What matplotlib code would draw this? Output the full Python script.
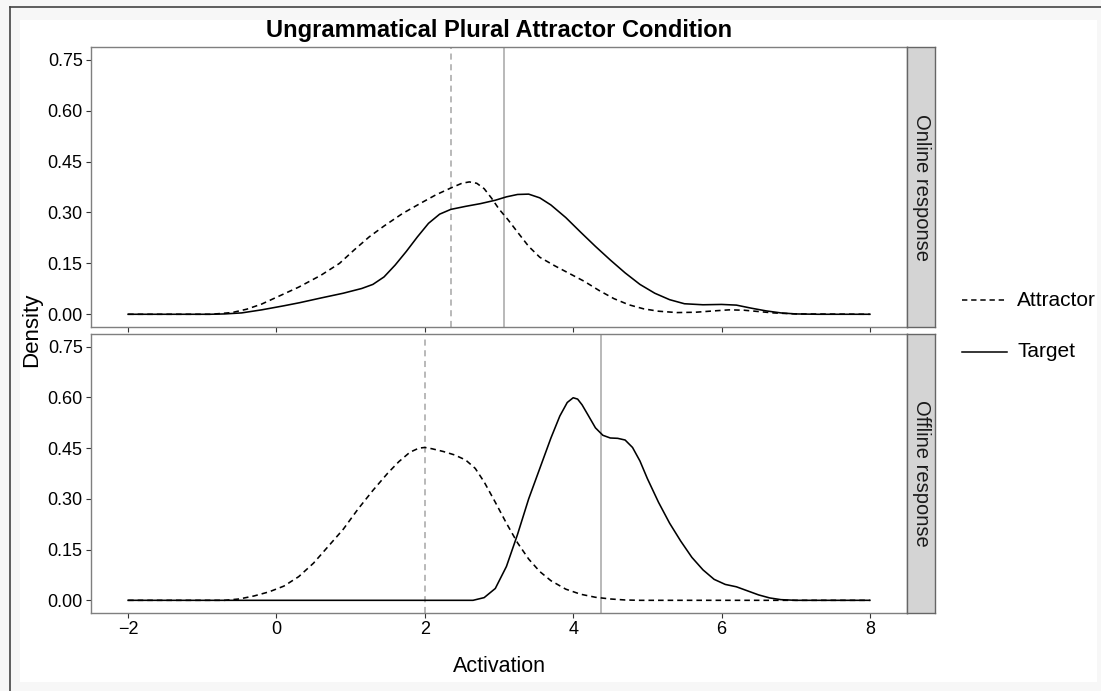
import matplotlib.pyplot as plt
from matplotlib.patches import Rectangle
from matplotlib.lines import Line2D

plt.rcParams['font.family'] = ['Liberation Sans', 'DejaVu Sans']

title = 'Ungrammatical Plural Attractor Condition'
panels = ['Online response', 'Offline response']
yticks = [0.00, 0.15, 0.30, 0.45, 0.60, 0.75]
xticks = [-2, 0, 2, 4, 6, 8]

# online response
on_target_x = [-2, -0.9, -0.7, -0.47, -0.2, 0.1, 0.31, 0.6, 0.9, 1.15, 1.3, 1.45, 1.6, 1.75, 1.9, 2.05,
               2.2, 2.35, 2.55, 2.75, 2.95, 3.1, 3.25, 3.4, 3.55, 3.7, 3.9, 4.1, 4.3, 4.5, 4.7, 4.9, 5.1,
               5.3, 5.5, 5.75, 6.0, 6.2, 6.4, 6.6, 6.8, 7.0, 7.3, 8]
on_target_y = [0, 0, 0.001, 0.004, 0.013, 0.025, 0.034, 0.048, 0.062, 0.076, 0.088, 0.11, 0.145, 0.185,
               0.228, 0.268, 0.295, 0.309, 0.318, 0.326, 0.336, 0.346, 0.353, 0.354, 0.343, 0.322, 0.285,
               0.242, 0.2, 0.16, 0.122, 0.088, 0.062, 0.043, 0.031, 0.028, 0.029, 0.027, 0.018, 0.01,
               0.004, 0.001, 0, 0]
on_attr_x = [-2, -0.88, -0.6, -0.4, -0.2, 0, 0.3, 0.6, 0.85, 1.05, 1.25, 1.45, 1.7, 1.95, 2.15, 2.35, 2.5,
             2.6, 2.7, 2.8, 2.9, 3.0, 3.12, 3.25, 3.4, 3.55, 3.75, 3.95, 4.15, 4.35, 4.55, 4.75, 4.95, 5.15,
             5.4, 5.65, 5.9, 6.1, 6.3, 6.5, 6.7, 7.0, 8]
on_attr_y = [0, 0, 0.005, 0.015, 0.03, 0.05, 0.08, 0.115, 0.15, 0.19, 0.228, 0.26, 0.297, 0.328, 0.352,
             0.372, 0.386, 0.39, 0.386, 0.37, 0.342, 0.31, 0.279, 0.242, 0.2, 0.168, 0.143, 0.12, 0.097,
             0.07, 0.046, 0.028, 0.016, 0.009, 0.005, 0.006, 0.01, 0.013, 0.012, 0.008, 0.004, 0.001, 0]
on_attr_mean = 2.35
on_target_mean = 3.07

# offline response
off_target_x = [-2, 2.65, 2.8, 2.95, 3.1, 3.25, 3.4, 3.55, 3.7, 3.82, 3.92, 4.0, 4.06, 4.12, 4.2, 4.3,
                4.4, 4.5, 4.6, 4.7, 4.8, 4.9, 5.0, 5.15, 5.3, 5.45, 5.6, 5.75, 5.9, 6.05, 6.2, 6.35, 6.5,
                6.65, 6.8, 7.0, 8]
off_target_y = [0, 0, 0.008, 0.035, 0.1, 0.195, 0.3, 0.39, 0.48, 0.545, 0.585, 0.599, 0.595, 0.578,
                0.548, 0.51, 0.488, 0.48, 0.479, 0.474, 0.452, 0.412, 0.36, 0.29, 0.228, 0.175, 0.127,
                0.09, 0.062, 0.047, 0.04, 0.028, 0.016, 0.007, 0.002, 0, 0]
off_attr_x = [-2, -0.7, -0.5, -0.3, -0.1, 0.1, 0.3, 0.5, 0.7, 0.9, 1.1, 1.3, 1.5, 1.65, 1.8, 1.92, 2.0,
              2.1, 2.25, 2.4, 2.55, 2.68, 2.8, 2.95, 3.1, 3.25, 3.4, 3.55, 3.7, 3.9, 4.1, 4.3, 4.5, 4.7,
              4.9, 8]
off_attr_y = [0, 0, 0.004, 0.013, 0.025, 0.042, 0.07, 0.11, 0.16, 0.21, 0.27, 0.325, 0.376, 0.41, 0.438,
              0.45, 0.452, 0.448, 0.44, 0.43, 0.415, 0.39, 0.35, 0.29, 0.228, 0.17, 0.122, 0.085, 0.058,
              0.033, 0.018, 0.009, 0.004, 0.001, 0, 0]
off_attr_mean = 2.0
off_target_mean = 4.37

data = [
    (on_attr_x, on_attr_y, on_target_x, on_target_y, on_attr_mean, on_target_mean),
    (off_attr_x, off_attr_y, off_target_x, off_target_y, off_attr_mean, off_target_mean),
]

W, H = 1101, 691
fig = plt.figure(figsize=(W / 100, H / 100), dpi=100, facecolor='#f7f7f7')

# white plot area and outer frame
fig.patches.append(Rectangle((20 / W, 1 - 682 / H), 1077 / W, 662 / H, transform=fig.transFigure,
                             facecolor='white', edgecolor='none', zorder=-5))
fig.add_artist(Line2D([10 / W, 10 / W], [0, 1 - 7 / H], transform=fig.transFigure, color='#444444', lw=1.2))
fig.add_artist(Line2D([10 / W, 1], [1 - 7 / H, 1 - 7 / H], transform=fig.transFigure, color='#444444', lw=1.2))

left, right = 91, 907
tops = [(47, 327), (334, 613)]
for i, (t, b) in enumerate(tops):
    ax = fig.add_axes([left / W, 1 - b / H, (right - left) / W, (b - t) / H])
    ax_x, ax_y, tg_x, tg_y, am, tm = data[i]
    ax.axvline(am, color='#a6a6a6', lw=1.1, ls=(0, (4, 3)), zorder=1)
    ax.axvline(tm, color='#a6a6a6', lw=1.1, zorder=1)
    ax.plot(ax_x, ax_y, color='black', lw=1.15, ls=(0, (3.5, 2.5)), zorder=2)
    ax.plot(tg_x, tg_y, color='black', lw=1.15, zorder=3)
    ax.set_xlim(-2.5, 8.5)
    ax.set_ylim(-0.0375, 0.7875)
    ax.set_yticks(yticks)
    ax.set_yticklabels(['%.2f' % v for v in yticks], fontsize=13)
    ax.set_xticks(xticks)
    if i == 1:
        ax.set_xticklabels(['\u22122' if v < 0 else str(v) for v in xticks], fontsize=13)
    else:
        ax.set_xticklabels([])
        ax.tick_params(axis='x', length=0)
    ax.tick_params(colors='#333333', labelcolor='black', width=0.8, length=3.5, pad=2.5)
    for s in ax.spines.values():
        s.set_color('#7f7f7f')
        s.set_linewidth(1.0)
    # facet strip
    sax = fig.add_axes([right / W, 1 - b / H, 28 / W, (b - t) / H])
    sax.set_facecolor('#d4d4d4')
    sax.set_xticks([])
    sax.set_yticks([])
    for s in sax.spines.values():
        s.set_color('#666666')
        s.set_linewidth(1.0)
    sax.text(0.5, 0.5, panels[i], rotation=-90, ha='center', va='center', fontsize=14.5,
             color='#1a1a1a', transform=sax.transAxes)

fig.text(499 / W, 1 - 30 / H, title, ha='center', va='center', fontsize=17, fontweight='bold')
fig.text(32 / W, 1 - 330 / H, 'Density', rotation=90, ha='center', va='center', fontsize=16)
fig.text(499 / W, 1 - 666 / H, 'Activation', ha='center', va='center', fontsize=15.5)

# legend
fig.add_artist(Line2D([962 / W, 1007 / W], [1 - 300 / H] * 2, transform=fig.transFigure,
                      color='black', lw=1.1, ls=(0, (3.5, 2.5))))
fig.add_artist(Line2D([962 / W, 1007 / W], [1 - 352 / H] * 2, transform=fig.transFigure,
                      color='black', lw=1.1))
fig.text(1017 / W, 1 - 300 / H, 'Attractor', ha='left', va='center', fontsize=15)
fig.text(1017 / W, 1 - 352 / H, 'Target', ha='left', va='center', fontsize=15)

fig.savefig('out.png', dpi=100, facecolor=fig.get_facecolor())
